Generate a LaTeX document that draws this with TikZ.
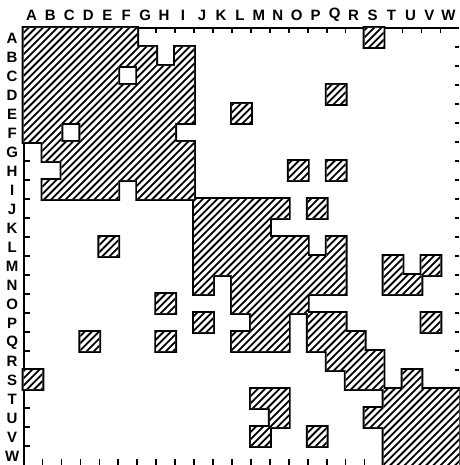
\documentclass[tikz,border=0pt]{standalone}
\usepackage{fontspec}
\setmainfont{Liberation Sans}
\begin{document}
\begin{tikzpicture}[
  lbl/.style={font=\bfseries\fontsize{15}{15}\selectfont, inner sep=0pt, anchor=center},
  frameline/.style={line width=2pt},
  tickline/.style={line width=1.6pt},
  hatchline/.style={line width=1.8pt},
]
\useasboundingbox (0,0) rectangle (459pt,-465pt);
\fill[white] (0,0) rectangle (459pt,-465pt);
\def\ranges{1/6/1, 19/19/1,
 1/7/2, 9/9/2,
 1/5/3, 7/9/3,
 1/9/4, 17/17/4,
 1/9/5, 12/12/5,
 1/2/6, 4/8/6,
 2/9/7,
 3/9/8, 15/15/8, 17/17/8,
 2/5/9, 7/9/9,
 10/14/10, 16/16/10,
 10/13/11,
 5/5/12, 10/15/12, 17/17/12,
 10/17/13, 20/20/13, 22/22/13,
 10/10/14, 12/17/14, 20/21/14,
 8/8/15, 12/15/15,
 10/10/16, 13/14/16, 16/17/16, 22/22/16,
 4/4/17, 8/8/17, 12/14/17, 16/18/17,
 17/19/18,
 1/1/19, 18/19/19, 21/21/19,
 13/14/20, 20/23/20,
 14/14/21, 19/23/21,
 13/13/22, 16/16/22, 20/23/22,
 20/23/23}
\begin{scope}[shift={(23.5pt,-28pt)}, x=18.95pt, y=-19pt]
  % ticks
  \foreach \k in {1,...,22} {
    \coordinate (tt\k) at (\k,0);
    \coordinate (tb\k) at (\k,23);
    \coordinate (tl\k) at (0,\k);
    \coordinate (tr\k) at (23,\k);
    \draw[tickline] (tt\k) -- ++(0,0.26);
    \draw[tickline] (tb\k) -- ++(0,-0.3);
    \draw[tickline] (tl\k) -- ++(0.34,0);
    \draw[tickline] (tr\k) -- ++(-0.22,0);
  }
  % frame
  \coordinate (tr) at (23,0);
  \coordinate (tlc) at (0,0);
  \coordinate (bl) at (0,23);
  \draw[frameline] (tr) -- (tlc) -- (bl);
  % labels
  \foreach \L [count=\i] in {A,B,C,D,E,F,G,H,I,J,K,L,M,N,O,P,Q,R,S,T,U,V,W} {
    \node[lbl] (col\L) at ({\i-0.5-0.08},-0.68) {\L};
    \node[lbl] (row\L) at (-0.6,{\i-0.5+0.05}) {\L};
  }
  % outline (outer ring)
  \fill[black] \foreach \a/\b/\r in \ranges {
    ([shift={(-1.9pt,1.9pt)}]\a-1,\r-1) rectangle ([shift={(1.9pt,-1.9pt)}]\b,\r)
  };
  \fill[white] \foreach \a/\b/\r in \ranges {
    (\a-1,\r-1) rectangle (\b,\r)
  };
  % hatching
  \begin{scope}
    \clip \foreach \a/\b/\r in \ranges {
      (\a-1,\r-1) rectangle (\b,\r)
    };
    \begin{scope}[x=1pt,y=1pt]
      \foreach \s in {-60,-52.8,...,880} {
        \draw[hatchline] (\s-450,-450) -- (\s+30,30);
      }
    \end{scope}
  \end{scope}
\end{scope}
\end{tikzpicture}
\end{document}
